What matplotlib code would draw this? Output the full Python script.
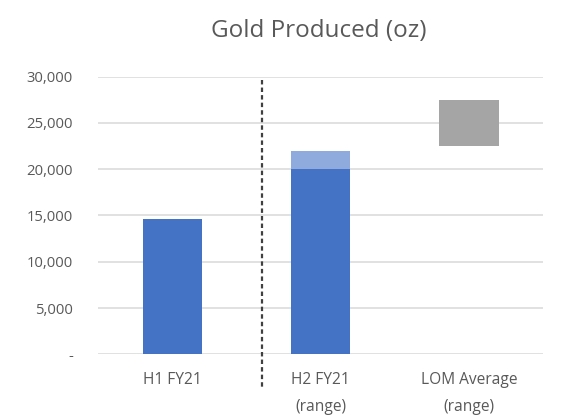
import matplotlib.pyplot as plt
from matplotlib.ticker import FuncFormatter

plt.rcParams["font.family"] = ["Open Sans", "DejaVu Sans"]

categories = ["H1 FY21", "H2 FY21\n(range)", "LOM Average\n(range)"]
h1_actual = 14600
h2_range = (20000, 22000)
lom_range = (22500, 27500)

BLUE = "#4472C4"
LIGHT_BLUE = "#8FAADC"
GREY = "#A5A5A5"
TEXT = "#595959"

fig = plt.figure(figsize=(5.64, 4.19), dpi=100)
ax = fig.add_axes([0.1738, 0.1544, 0.789, 0.6626])

x = range(len(categories))
w = 0.40

ax.bar(x[0], h1_actual, width=w, color=BLUE, zorder=3)
ax.bar(x[1], h2_range[0], width=w, color=BLUE, zorder=3)
ax.bar(x[1], h2_range[1] - h2_range[0], bottom=h2_range[0], width=w,
       color=LIGHT_BLUE, zorder=3)
ax.bar(x[2], lom_range[1] - lom_range[0], bottom=lom_range[0], width=w,
       color=GREY, zorder=3)

# separator between actuals and guidance
ax.plot([0.604, 0.604], [29600, -3650], color="#404040", lw=1.6,
        ls=(0, (2, 1.4)), clip_on=False, zorder=4)

ax.set_xlim(-0.5, 2.5)
ax.set_ylim(0, 30000)
ax.set_yticks(range(0, 30001, 5000))
ax.yaxis.set_major_formatter(
    FuncFormatter(lambda v, _: "-" if v == 0 else f"{v:,.0f}"))
ax.set_xticks(list(x))
ax.set_xticklabels(categories, linespacing=1.85, va="top")

ax.grid(axis="y", color="#D9D9D9", lw=1.1, zorder=0)
for s in ax.spines.values():
    s.set_visible(False)
ax.tick_params(axis="y", length=0, pad=18, labelsize=10.7, labelcolor=TEXT)
ax.tick_params(axis="x", length=0, pad=13, labelsize=11.2, labelcolor=TEXT)

fig.text(0.565, 0.926, "Gold Produced (oz)", ha="center", va="center",
         fontsize=17.5, color=TEXT)

fig.savefig("out.png", dpi=100)
